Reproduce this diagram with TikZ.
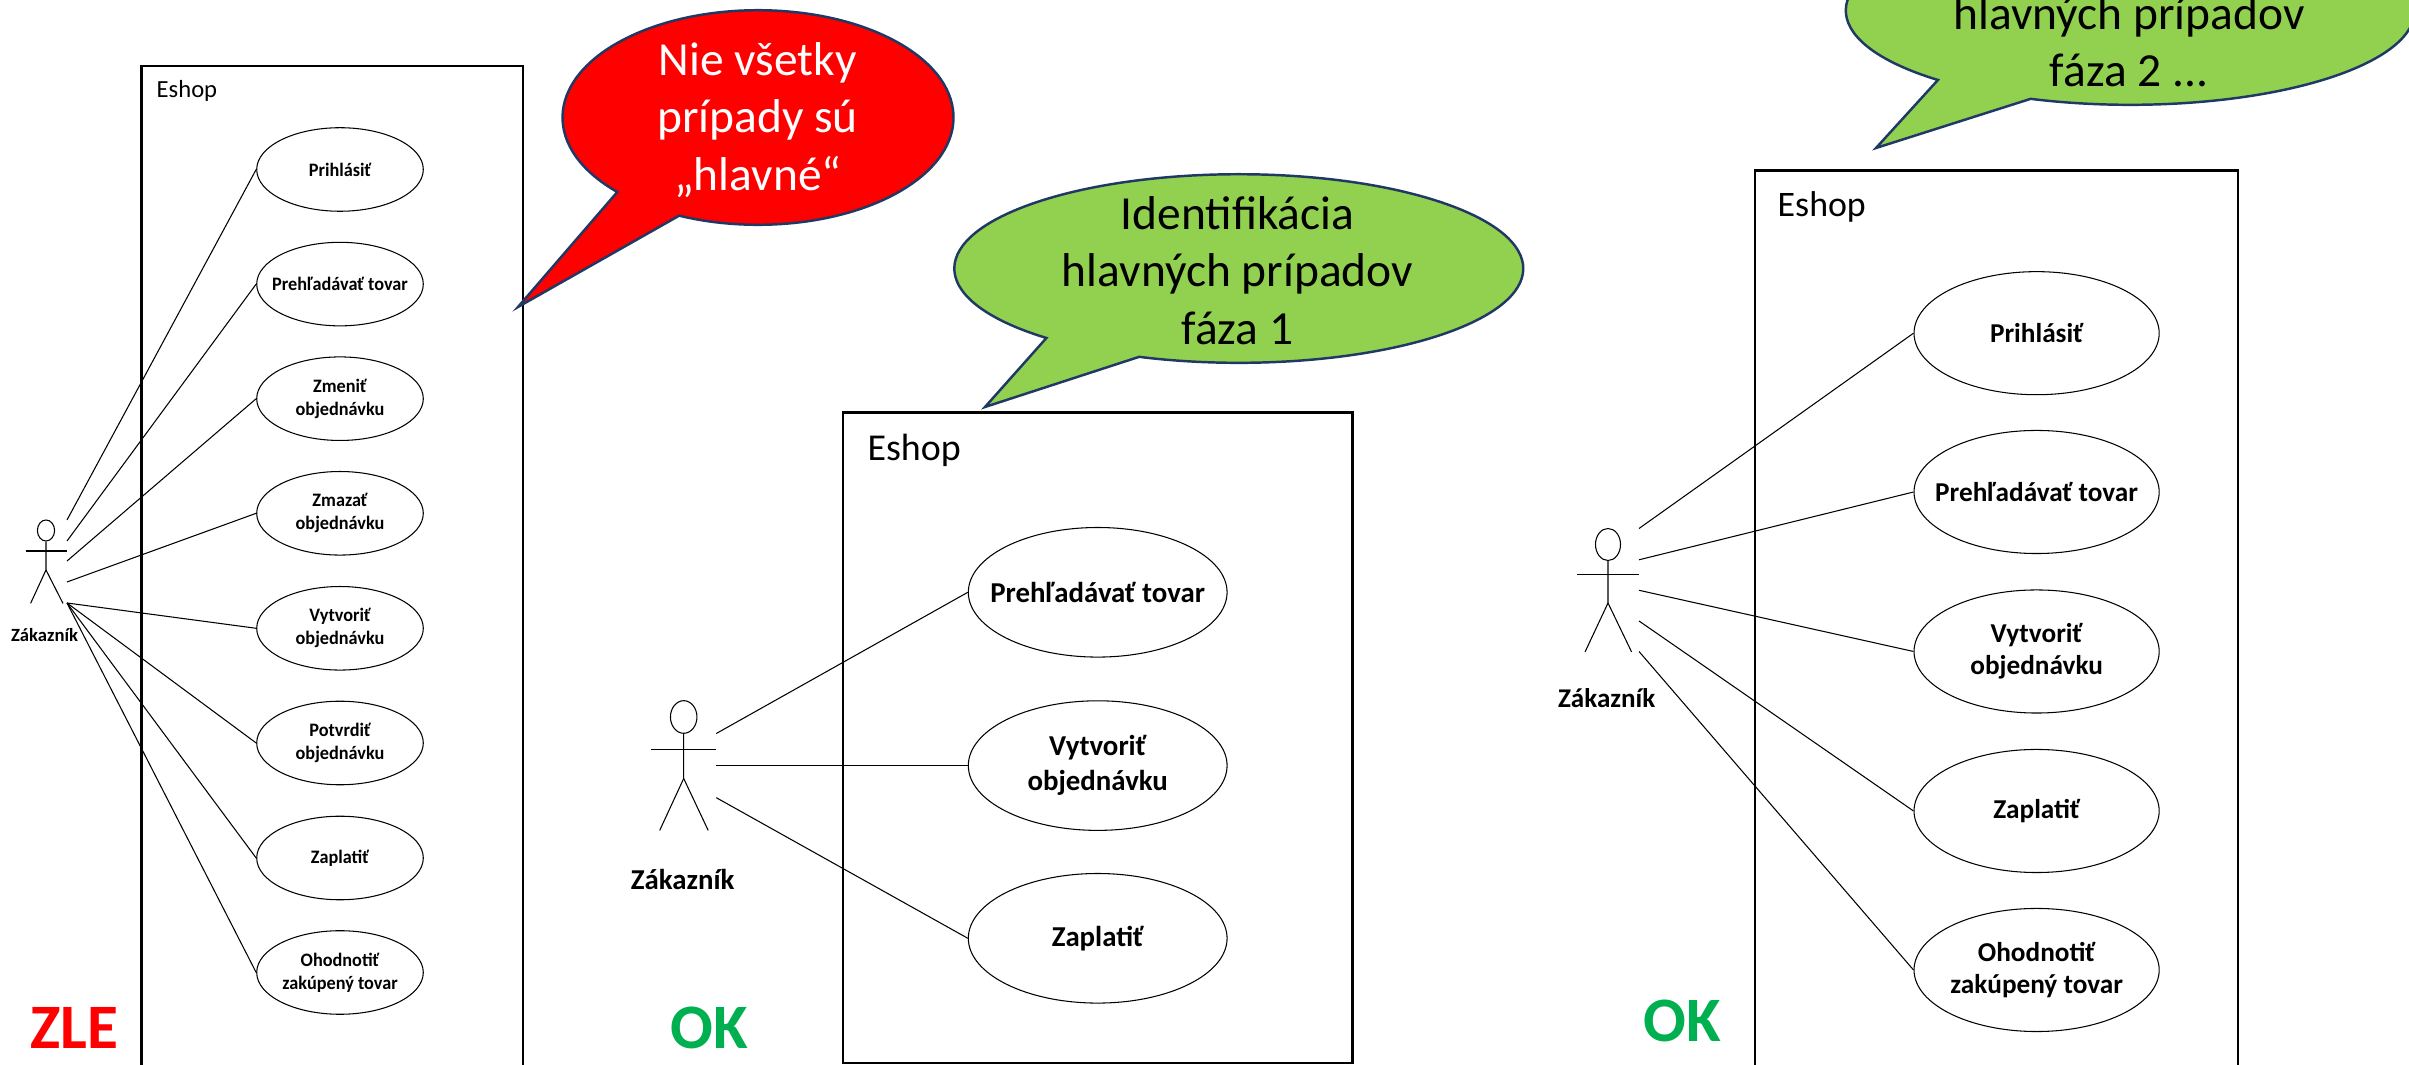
\documentclass[tikz,border=0pt]{standalone}
\usepackage{fontspec}
\setmainfont{Carlito}
\newfontfamily\narrowfont[FakeStretch=0.96]{Carlito}
\usetikzlibrary{shapes.geometric}
\definecolor{calloutline}{HTML}{1F3864}
\definecolor{calloutgreen}{HTML}{92D050}
\definecolor{okgreen}{HTML}{00B050}
\tikzset{
  usecase/.style={ellipse,draw=black,line width=0.3pt,inner sep=-3mm,align=center},
  usecaseL/.style={usecase,minimum width=1.665cm,minimum height=0.835cm,font=\narrowfont\fontsize{5.4}{6.55}\selectfont\bfseries},
  usecaseM/.style={usecase,minimum width=2.586cm,minimum height=1.295cm,font=\fontsize{8.2}{9.95}\selectfont\bfseries},
  usecaseR/.style={usecase,minimum width=2.45cm,minimum height=1.23cm,font=\fontsize{7.75}{9.1}\selectfont\bfseries},
  sysbox/.style={draw=black,line width=0.7pt},
  assoc/.style={draw=black,line width=0.3pt},
  balloon/.style={draw=calloutline,line width=0.7pt,line join=miter},
  balloontext/.style={inner sep=0pt,align=center,font=\fontsize{13.5}{16.35}\selectfont},
  verdict/.style={inner sep=0pt,font=\fontsize{18}{18}\selectfont\bfseries}
}
\begin{document}
\begin{tikzpicture}[x=0.01cm,y=-0.01cm]
\useasboundingbox (0,0) rectangle (2409,1065);
\clip (0,0) rectangle (2409,1065);
% left panel
\draw[sysbox] (141.6,66) rectangle (523,1080);
\node[inner sep=0pt,anchor=west,font=\fontsize{7}{8}\selectfont] (eshopL) at (156,91) {Eshop};
\node[usecaseL] (prihlasitL) at (340,169.5) {Prihlásiť};
\node[usecaseL] (prehladatL) at (340,284.1) {Prehľadávať tovar};
\node[usecaseL] (zmenitL) at (340,398.7) {Zmeniť\\objednávku};
\node[usecaseL] (zmazatL) at (340,513.3) {Zmazať\\objednávku};
\node[usecaseL] (vytvoritL) at (340,628.3) {Vytvoriť\\objednávku};
\node[usecaseL] (potvrditL) at (340,743) {Potvrdiť\\objednávku};
\node[usecaseL] (zaplatitL) at (340,858) {Zaplatiť};
\node[usecaseL] (ohodnotitL) at (340,972.5) {Ohodnotiť\\zakúpený tovar};
\node[draw=black,line width=0.3pt,ellipse,inner sep=0pt,minimum width=0.172cm,minimum height=0.21cm] (headL) at (46,530.5) {};
\draw[assoc] (headL.south) -- (46,570) -- (30.6,603.4);
\draw[assoc] (46,570) -- (63,603.4);
\draw[assoc] (25.5,551) -- (67,551);
\node[inner sep=0pt,font=\fontsize{5.3}{6.5}\selectfont\bfseries] (zakaznikL) at (44.6,635) {Zákazník};
\coordinate (actorL1) at (67,520);
\coordinate (actorL2) at (67,541);
\coordinate (actorL3) at (67,561);
\coordinate (actorL4) at (67,582);
\coordinate (actorL5) at (67,603);
\foreach \a/\b in {1/prihlasitL,2/prehladatL,3/zmenitL,4/zmazatL,5/vytvoritL,5/potvrditL,5/zaplatitL,5/ohodnotitL}
  \draw[assoc] (actorL\a) -- (\b.west);
\node[verdict,text=red] (zle) at (74.6,1028) {ZLE};
\draw[balloon,fill=red] (518,307) -- (617.3,192) arc[start angle=136.04,end angle=473.8,x radius=195.5,y radius=107.3] -- cycle;
\node[balloontext,text=white] (balloonzle) at (757.6,120) {Nie všetky\\prípady sú\\„hlavné“};
% middle panel
\draw[sysbox] (843,412.6) rectangle (1352.5,1063);
\node[inner sep=0pt,anchor=west,font=\fontsize{10.8}{12}\selectfont] (eshopM) at (866.8,450.5) {Eshop};
\node[usecaseM] (prehladatM) at (1097.7,592.3) {Prehľadávať tovar};
\node[usecaseM] (vytvoritM) at (1097.7,765.6) {Vytvoriť\\objednávku};
\node[usecaseM] (zaplatitM) at (1097.7,938.3) {Zaplatiť};
\node[draw=black,line width=0.3pt,ellipse,inner sep=0pt,minimum width=0.265cm,minimum height=0.326cm] (headM) at (683.7,717) {};
\draw[assoc] (headM.south) -- (683.7,778.5) -- (659.7,830.4);
\draw[assoc] (683.7,778.5) -- (708.2,830.4);
\draw[assoc] (651,749.3) -- (716.3,749.3);
\node[inner sep=0pt,font=\fontsize{8.2}{9}\selectfont\bfseries] (zakaznikM) at (682.7,879.4) {Zákazník};
\coordinate (actorM1) at (716.3,733.5);
\coordinate (actorM2) at (716.3,765.6);
\coordinate (actorM3) at (716.3,797.7);
\foreach \a/\b in {1/prehladatM,2/vytvoritM,3/zaplatitM}
  \draw[assoc] (actorM\a) -- (\b.west);
\node[verdict,text=okgreen] (okM) at (709,1028) {OK};
\draw[balloon,fill=calloutgreen] (985,407) -- (1046.4,338) arc[start angle=132.55,end angle=470.5,x radius=284.5,y radius=94.3] -- cycle;
\node[balloontext] (balloonM) at (1237.5,270.5) {Identifikácia\\hlavných prípadov\\fáza 1};
% right panel
\draw[sysbox] (1755,170.5) rectangle (2238,1080);
\node[inner sep=0pt,anchor=west,font=\fontsize{10.2}{12}\selectfont] (eshopR) at (1777,206.5) {Eshop};
\node[usecaseR] (prihlasitR) at (2036.6,333.2) {Prihlásiť};
\node[usecaseR] (prehladatR) at (2036.6,492) {Prehľadávať tovar};
\node[usecaseR] (vytvoritR) at (2036.6,651.5) {Vytvoriť\\objednávku};
\node[usecaseR] (zaplatitR) at (2036.6,811) {Zaplatiť};
\node[usecaseR] (ohodnotitR) at (2036.6,970) {Ohodnotiť\\zakúpený tovar};
\node[draw=black,line width=0.3pt,ellipse,inner sep=0pt,minimum width=0.25cm,minimum height=0.32cm] (headR) at (1608,544.5) {};
\draw[assoc] (headR.south) -- (1608,603) -- (1585,652);
\draw[assoc] (1608,603) -- (1631.6,652);
\draw[assoc] (1577,574.7) -- (1639,574.7);
\node[inner sep=0pt,font=\fontsize{7.7}{9}\selectfont\bfseries] (zakaznikR) at (1606.7,698.4) {Zákazník};
\coordinate (actorR1) at (1639,528.5);
\coordinate (actorR2) at (1639,559.8);
\coordinate (actorR3) at (1639,590.3);
\coordinate (actorR4) at (1639,621);
\coordinate (actorR5) at (1639,651.5);
\foreach \a/\b in {1/prihlasitR,2/prehladatR,3/vytvoritR,4/zaplatitR,5/ohodnotitR}
  \draw[assoc] (actorR\a) -- (\b.west);
\node[verdict,text=okgreen] (okR) at (1682.6,1021) {OK};
\draw[balloon,fill=calloutgreen] (1876,148) -- (1937.9,80) arc[start angle=132.55,end angle=470.5,x radius=284.5,y radius=94.3] -- cycle;
\node[balloontext] (balloonR) at (2129,41.5) {hlavných prípadov\\fáza 2 ...};
\end{tikzpicture}
\end{document}
